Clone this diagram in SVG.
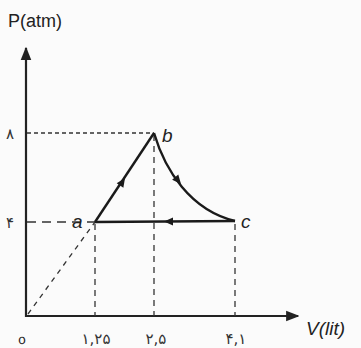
<svg xmlns="http://www.w3.org/2000/svg" width="361" height="348" viewBox="0 0 361 348">
<style>
.axis{stroke:#222;stroke-width:2.2;fill:none}
.path{stroke:#1a1a1a;stroke-width:2.4;fill:none}
.dash{stroke:#333;stroke-width:1.3;fill:none}
.lbl{font-family:"Liberation Sans",Arial,sans-serif;fill:#222}
.fa{font-family:"DejaVu Sans",sans-serif;fill:#333;font-size:15px}
.pt{font-family:"Liberation Sans",Arial,sans-serif;font-style:italic;font-size:19px;fill:#222}
</style>
<defs>
<marker id="ax" viewBox="0 0 10 10" refX="9" refY="5" markerWidth="6" markerHeight="6" orient="auto" markerUnits="strokeWidth">
<path d="M0,1 L10,5 L0,9 Z" fill="#222"/>
</marker>
</defs>
<rect width="361" height="348" fill="#fbfbfb"/>
<g id="axes">
<line class="axis" x1="26" y1="317" x2="26" y2="48" marker-end="url(#ax)"/>
<line class="axis" x1="25" y1="316" x2="298" y2="316" marker-end="url(#ax)"/>
<text class="lbl" x="8" y="27" font-size="18">P(atm)</text>
<text class="lbl" x="306" y="335" font-size="19" font-style="italic">V(lit)</text>
<text class="fa" x="6" y="139">٨</text>
<text class="fa" x="6" y="228">۴</text>
<text class="lbl" x="15" y="344" font-size="14">ｏ</text>
<text class="fa" x="96" y="344" text-anchor="middle">۱,۲۵</text>
<text class="fa" x="156" y="344" text-anchor="middle">۲,۵</text>
<text class="fa" x="236" y="344" text-anchor="middle">۴,۱</text>
</g>
<g id="guides">
<line class="dash" x1="27" y1="133" x2="154" y2="133" stroke-dasharray="4,3"/>
<line class="dash" x1="27" y1="222" x2="95" y2="222" stroke-dasharray="9,6" stroke-width="1.8"/>
<line class="dash" x1="154" y1="135" x2="154" y2="316" stroke-dasharray="6,5"/>
<line class="dash" x1="95" y1="224" x2="95" y2="316" stroke-dasharray="6,5"/>
<line class="dash" x1="235" y1="224" x2="235" y2="316" stroke-dasharray="6,5"/>
<line class="dash" x1="28" y1="314" x2="95" y2="222" stroke-dasharray="5,5"/>
</g>
<g id="connectors">
<line class="path" x1="95" y1="222" x2="154" y2="133"/>
<path class="path" d="M154,133 C165,170 190,210 235,221"/>
<line class="path" x1="235" y1="221" x2="95" y2="222"/>
<path d="M0,0 L-9,-4 L-9,4 Z" fill="#1a1a1a" transform="translate(125,178) rotate(-56.5)"/>
<path d="M0,0 L-9,-4 L-9,4 Z" fill="#1a1a1a" transform="translate(181,184) rotate(50)"/>
<path d="M0,0 L-9,-4 L-9,4 Z" fill="#1a1a1a" transform="translate(164,221.5) rotate(180)"/>
</g>
<g id="node-a"><text class="pt" x="72" y="228">a</text></g>
<g id="node-b"><text class="pt" x="162" y="142">b</text></g>
<g id="node-c"><text class="pt" x="241" y="228">c</text></g>
</svg>
